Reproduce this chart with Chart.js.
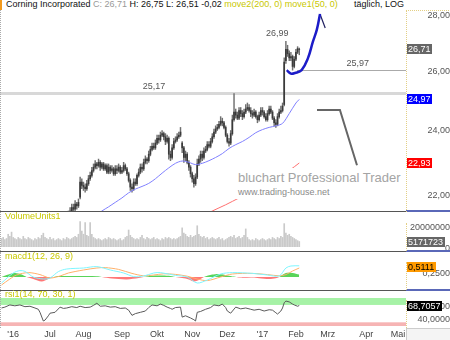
<!DOCTYPE html>
<html>
<head>
<meta charset="utf-8">
<title>Corning Incorporated</title>
<script src="https://cdn.jsdelivr.net/npm/chart.js@4.4.1/dist/chart.umd.min.js"></script>
<style>
  body { margin: 0; width: 450px; height: 340px; overflow: hidden; background: #fff; position: relative;
         font-family: "Liberation Sans", Arial, sans-serif; }
  canvas { position: absolute; left: 0; }
  .txt { position: absolute; font-size: 9px; line-height: 11px; white-space: nowrap; z-index: 3; }
  .yellow { color: #c8c800; }
  .sep { position: absolute; left: 0; width: 406px; height: 1px; background: #555; z-index: 2; }
  .sepr { position: absolute; left: 406px; width: 44px; height: 2px; background: #5a68b8; z-index: 2; }
  .dotl { position: absolute; left: 0; width: 0; border-left: 1px dotted #aaa; z-index: 2; }
  .doty { position: absolute; left: 406px; width: 0; border-left: 1px dotted #e3cf85; z-index: 2; }
</style>
</head>
<body>

<div style="position:absolute;left:0;top:0;width:2px;height:10px;background:#f39a1d"></div>
<div class="txt" style="left:6px;top:-1px;color:#111">Corning Incorporated <span style="color:#999">C: 26,71</span> H: 26,75 L: 26,51 -0,02 <span class="yellow">move2(200, 0) move1(50, 0)</span></div>
<div class="txt" style="left:354px;top:-1px;color:#111">täglich, LOG</div>

<canvas id="main" width="450" height="201" style="top:10px"></canvas>
<canvas id="vol" width="450" height="39" style="top:212px"></canvas>
<canvas id="macd" width="450" height="38" style="top:252px"></canvas>
<canvas id="rsi" width="450" height="49" style="top:291px"></canvas>

<div class="txt yellow" style="left:5px;top:211px">VolumeUnits1</div>
<div class="txt yellow" style="left:5px;top:251px">macd1(12, 26, 9)</div>
<div class="txt yellow" style="left:5px;top:289px">rsi1(14, 70, 30, 1)</div>

<div style="position:absolute;left:236px;top:168px;width:170px;height:31px;background:#fff;z-index:2">
  <div style="position:absolute;left:2px;top:2px;font-size:13px;color:#a4a4a4;white-space:nowrap">bluchart Professional Trader</div>
  <div style="position:absolute;left:2px;top:19px;font-size:9px;color:#8a8a8a;white-space:nowrap">www.trading-house.net</div>
</div>

<div class="sep" style="top:211px"></div><div class="sepr" style="top:210px"></div>
<div class="sep" style="top:251px"></div><div class="sepr" style="top:250px"></div>
<div class="sep" style="top:290px"></div><div class="sepr" style="top:289px"></div>
<div class="dotl" style="top:10px;height:201px"></div>
<div class="dotl" style="top:212px;height:39px"></div>
<div class="dotl" style="top:252px;height:38px"></div>
<div class="dotl" style="top:291px;height:37px"></div>
<div class="doty" style="top:10px;height:201px;border-top:1px dotted #e3cf85;width:44px"></div>
<div class="doty" style="top:223px;height:28px"></div>
<div class="doty" style="top:262px;height:28px"></div>
<div class="doty" style="top:300px;height:28px"></div>
<div style="position:absolute;left:406px;top:328px;width:43px;height:11px;border:1px solid #ccc;background:#f4f4f4;z-index:2"></div>

<script>
// trading days, May 23 2016 .. Feb 3 2017 (index 0..178)
const opens = [
  20.40, 20.45, 20.60, 20.85, 20.90, 20.95, 20.80, 20.70, 20.85, 20.95,
  20.90, 21.05, 21.10, 21.00, 20.85, 20.70, 20.60, 20.55, 20.70, 20.80,
  20.65, 20.90, 20.95, 20.85, 20.60, 20.25, 19.85, 20.10, 20.40, 20.50,
  20.60, 20.45, 20.70, 20.85, 21.05, 21.15, 21.20, 21.25, 21.30, 21.20,
  21.35, 21.40, 21.50, 21.60, 21.55, 21.70, 21.65, 21.90, 22.35, 22.25,
  22.20, 22.15, 22.30, 22.45, 22.55, 22.70, 22.80, 22.90, 22.85, 22.95,
  22.80, 22.90, 22.75, 22.85, 22.65, 22.80, 22.70, 22.75, 22.60, 22.75,
  22.70, 22.80, 22.65, 22.70, 22.85, 22.75, 22.60, 22.40, 22.20, 22.15,
  22.35, 22.30, 22.55, 22.65, 22.80, 22.75, 22.95, 23.05, 23.00, 23.20,
  23.35, 23.45, 23.40, 23.55, 23.70, 23.65, 23.80, 23.85, 23.75, 23.60,
  23.70, 23.20, 23.10, 23.40, 23.60, 23.65, 23.75, 23.80, 23.55, 23.40,
  23.10, 23.20, 22.95, 22.80, 22.60, 22.45, 22.30, 22.50, 22.90, 23.05,
  23.20, 23.10, 23.30, 23.35, 23.50, 23.45, 23.60, 23.75, 23.90, 24.00,
  24.05, 24.15, 24.25, 24.20, 24.05, 23.80, 23.60, 23.55, 23.85, 24.30,
  24.55, 24.45, 24.35, 24.60, 24.50, 24.40, 24.55, 24.65, 24.70, 24.60,
  24.50, 24.45, 24.55, 24.40, 24.30, 24.45, 24.60, 24.55, 24.40, 24.30,
  24.50, 24.65, 24.55, 24.35, 24.20, 24.15, 24.40, 24.55, 24.60, 24.80,
  26.30, 26.70, 26.55, 26.40, 26.45, 26.10, 26.35, 26.60, 26.70
];
const highs = [
  20.55, 20.70, 20.90, 21.00, 21.05, 21.00, 20.85, 20.95, 21.05, 21.00,
  21.15, 21.20, 21.15, 21.05, 20.90, 20.80, 20.70, 20.80, 20.90, 20.85,
  20.95, 21.05, 21.00, 21.10, 20.70, 20.35, 20.20, 20.50, 20.60, 20.70,
  20.65, 20.75, 20.90, 21.10, 21.20, 21.30, 21.35, 21.40, 21.35, 21.40,
  21.50, 21.60, 21.70, 21.70, 21.80, 21.75, 21.85, 22.50, 22.45, 22.35,
  22.30, 22.40, 22.55, 22.65, 22.80, 22.90, 23.00, 22.95, 23.05, 23.00,
  22.95, 22.95, 22.90, 22.90, 22.90, 22.85, 22.85, 22.80, 22.85, 22.85,
  22.90, 22.85, 22.80, 22.95, 22.90, 22.80, 22.65, 22.45, 22.30, 22.45,
  22.45, 22.60, 22.75, 22.90, 22.90, 23.05, 23.15, 23.10, 23.30, 23.45,
  23.55, 23.55, 23.65, 23.80, 23.80, 23.90, 23.95, 23.90, 23.85, 23.80,
  23.75, 23.30, 23.50, 23.70, 23.75, 23.85, 23.90, 24.05, 23.60, 23.45,
  23.30, 23.25, 23.00, 22.85, 22.65, 22.55, 22.60, 23.05, 23.15, 23.30,
  23.30, 23.40, 23.45, 23.60, 23.60, 23.70, 23.85, 24.00, 24.10, 24.15,
  24.25, 24.40, 24.35, 24.25, 24.10, 23.85, 23.70, 23.95, 24.45, 25.17,
  24.65, 24.55, 24.70, 24.70, 24.60, 24.65, 24.80, 24.85, 24.80, 24.70,
  24.60, 24.65, 24.60, 24.45, 24.55, 24.70, 24.70, 24.60, 24.50, 24.60,
  24.75, 24.75, 24.60, 24.40, 24.30, 24.50, 24.65, 24.75, 24.85, 26.40,
  26.99, 26.85, 26.65, 26.60, 26.50, 26.45, 26.70, 26.80, 26.75
];
const lows = [
  20.30, 20.40, 20.55, 20.75, 20.80, 20.75, 20.60, 20.65, 20.80, 20.80,
  20.85, 20.95, 20.95, 20.80, 20.65, 20.55, 20.45, 20.50, 20.65, 20.60,
  20.60, 20.80, 20.75, 20.80, 20.20, 19.70, 19.80, 20.05, 20.30, 20.40,
  20.35, 20.40, 20.65, 20.80, 21.00, 21.10, 21.15, 21.20, 21.15, 21.15,
  21.30, 21.35, 21.45, 21.45, 21.50, 21.55, 21.60, 21.85, 22.15, 22.10,
  22.05, 22.10, 22.25, 22.40, 22.50, 22.65, 22.75, 22.75, 22.80, 22.70,
  22.75, 22.70, 22.70, 22.60, 22.60, 22.60, 22.65, 22.55, 22.55, 22.60,
  22.65, 22.60, 22.60, 22.65, 22.70, 22.55, 22.35, 22.10, 22.05, 22.10,
  22.25, 22.25, 22.50, 22.60, 22.65, 22.70, 22.90, 22.90, 22.95, 23.15,
  23.30, 23.35, 23.35, 23.50, 23.55, 23.60, 23.75, 23.65, 23.50, 23.55,
  23.05, 23.00, 23.05, 23.35, 23.55, 23.60, 23.70, 23.75, 23.25, 22.95,
  23.00, 22.90, 22.70, 22.50, 22.35, 22.20, 22.25, 22.45, 22.85, 22.95,
  23.00, 23.05, 23.25, 23.30, 23.40, 23.40, 23.55, 23.70, 23.85, 23.95,
  24.00, 24.10, 24.10, 24.00, 23.75, 23.55, 23.45, 23.50, 23.80, 24.25,
  24.35, 24.30, 24.30, 24.40, 24.30, 24.35, 24.50, 24.60, 24.55, 24.40,
  24.35, 24.40, 24.35, 24.20, 24.25, 24.40, 24.45, 24.35, 24.25, 24.25,
  24.45, 24.50, 24.30, 24.10, 24.05, 24.10, 24.35, 24.50, 24.55, 24.75,
  26.20, 26.45, 26.30, 26.30, 25.97, 26.05, 26.30, 26.55, 26.51
];
const closes = [
  20.45, 20.60, 20.85, 20.90, 20.95, 20.80, 20.70, 20.85, 20.95, 20.90,
  21.05, 21.10, 21.00, 20.85, 20.70, 20.60, 20.55, 20.70, 20.80, 20.65,
  20.90, 20.95, 20.85, 21.05, 20.30, 19.85, 20.10, 20.40, 20.50, 20.60,
  20.45, 20.70, 20.85, 21.05, 21.15, 21.20, 21.25, 21.30, 21.20, 21.35,
  21.40, 21.50, 21.60, 21.55, 21.70, 21.65, 21.75, 22.35, 22.25, 22.20,
  22.15, 22.30, 22.45, 22.55, 22.70, 22.80, 22.90, 22.85, 22.95, 22.80,
  22.90, 22.75, 22.85, 22.65, 22.80, 22.70, 22.75, 22.60, 22.75, 22.70,
  22.80, 22.65, 22.70, 22.85, 22.75, 22.60, 22.40, 22.20, 22.15, 22.35,
  22.30, 22.55, 22.65, 22.80, 22.75, 22.95, 23.05, 23.00, 23.20, 23.35,
  23.45, 23.40, 23.55, 23.70, 23.65, 23.80, 23.85, 23.75, 23.60, 23.70,
  23.20, 23.10, 23.40, 23.60, 23.65, 23.75, 23.80, 23.90, 23.40, 23.10,
  23.20, 22.95, 22.80, 22.60, 22.45, 22.30, 22.50, 22.90, 23.05, 23.20,
  23.10, 23.30, 23.35, 23.50, 23.45, 23.60, 23.75, 23.90, 24.00, 24.05,
  24.15, 24.25, 24.20, 24.05, 23.80, 23.60, 23.55, 23.85, 24.30, 24.55,
  24.45, 24.35, 24.60, 24.50, 24.40, 24.55, 24.65, 24.70, 24.60, 24.50,
  24.45, 24.55, 24.40, 24.30, 24.45, 24.60, 24.55, 24.40, 24.30, 24.50,
  24.65, 24.55, 24.35, 24.20, 24.15, 24.40, 24.55, 24.60, 24.75, 26.25,
  26.70, 26.55, 26.40, 26.45, 26.10, 26.35, 26.60, 26.73, 26.71
];
// volume in millions of shares
const volumesMio = [
  8, 9, 7, 8, 12, 10, 14, 9, 8, 7,
  9, 8, 7, 10, 8, 7, 9, 8, 7, 6,
  8, 7, 9, 8, 11, 13, 9, 8, 7, 9,
  7, 8, 6, 7, 8, 7, 6, 8, 7, 9,
  8, 7, 8, 9, 10, 9, 12, 24, 15, 12,
  23, 11, 10, 23, 12, 9, 8, 7, 8, 7,
  6, 7, 8, 7, 9, 8, 7, 8, 7, 6,
  7, 8, 6, 7, 9, 10, 16, 11, 9, 8,
  7, 8, 7, 9, 11, 8, 7, 9, 8, 7,
  8, 9, 7, 8, 7, 6, 8, 7, 9, 8,
  9, 8, 7, 8, 7, 8, 9, 10, 18, 13,
  12, 10, 9, 11, 9, 10, 11, 20, 12, 10,
  9, 10, 8, 9, 7, 8, 9, 8, 7, 8,
  9, 7, 8, 6, 7, 8, 9, 10, 9, 11,
  8, 9, 10, 8, 9, 11, 17, 9, 7, 6,
  7, 6, 8, 7, 6, 7, 8, 7, 6, 7,
  8, 7, 9, 8, 7, 9, 8, 10, 9, 22,
  13, 11, 12, 10, 9, 8, 7, 6, 5.171723
];
const lastVolume = 5171723;

// moving averages, read at sample days
const sma50Days = [56, 60, 64, 68, 72, 76, 80, 84, 88, 92, 96, 100, 104, 108, 112, 116, 120, 124, 128, 132, 136, 140, 144, 148, 152, 156, 160, 164, 168, 172, 176, 178];
const sma50 = [21.35, 21.50, 21.62, 21.75, 21.88, 22.03, 22.14, 22.22, 22.31, 22.45, 22.62, 22.78, 22.92, 22.99, 22.95, 22.88, 22.92, 23.00, 23.10, 23.22, 23.38, 23.50, 23.60, 23.73, 23.88, 23.98, 24.05, 24.10, 24.18, 24.50, 24.85, 24.97];
const sma200Days = [116, 120, 126, 134, 142, 150, 158, 166, 172, 178];
const sma200 = [21.25, 21.35, 21.50, 21.68, 21.88, 22.08, 22.30, 22.52, 22.70, 22.93];

// MACD panel, read at sample days
const macdDays = [0, 7, 11, 14, 19, 25, 29, 34, 39, 49, 57, 65, 73, 79, 85, 91, 95, 104, 111, 117, 123, 131, 138, 150, 159, 166, 170, 173, 178];
const macdLine = [-0.30, 0.20, 0.32, 0.28, 0.00, -0.10, -0.05, 0.27, 0.40, 0.45, 0.52, 0.35, 0.20, 0.02, 0.05, 0.20, 0.22, 0.08, 0.00, -0.30, -0.15, 0.15, 0.22, 0.18, 0.10, 0.05, 0.45, 0.55, 0.56];
const signalDays = [0, 5, 9, 16, 23, 29, 35, 40, 49, 57, 62, 70, 78, 85, 91, 97, 104, 111, 117, 123, 131, 138, 150, 159, 166, 170, 174, 178];
const signalLine = [-0.40, -0.10, 0.10, 0.22, 0.12, -0.05, 0.05, 0.20, 0.35, 0.45, 0.47, 0.38, 0.18, 0.06, 0.10, 0.16, 0.13, 0.04, -0.10, -0.18, 0.00, 0.15, 0.18, 0.12, 0.06, 0.12, 0.30, 0.45];
const histDays = [0, 3, 8, 12, 15, 19, 24, 28, 31, 35, 45, 57, 60, 66, 75, 82, 85, 92, 100, 104, 108, 112, 115, 118, 121, 126, 130, 135, 139, 143, 150, 154, 160, 164, 166, 170, 174, 178];
const histValues = [0, 0.10, 0.20, 0.12, 0, -0.10, -0.22, -0.10, 0, 0.05, 0.05, 0.04, 0, -0.08, -0.12, -0.05, 0, 0.07, 0.06, 0, -0.05, -0.12, -0.22, -0.15, 0, 0.12, 0.15, 0.08, 0.02, -0.03, -0.02, -0.06, -0.10, -0.06, 0, 0.20, 0.20, 0.12];
const lastMacd = 0.5111;

// RSI panel, read at sample days
const rsiDays = [0, 2, 5, 8, 11, 14, 17, 20, 22, 23, 25, 26, 28, 29, 32, 35, 37, 39, 42, 45,
  47, 50, 53, 55, 57, 59, 62, 65, 68, 71, 74, 76, 78, 80, 83, 86, 88, 90, 93, 95,
  97, 99, 101, 102, 104, 107, 108, 110, 113, 115, 116, 117, 119, 122, 125, 127, 130, 132, 134, 135,
  137, 140, 143, 146, 149, 151, 154, 157, 160, 162, 164, 165, 167, 168, 169, 170, 172, 174, 175, 177, 178];
const rsiValues = [63, 65, 70, 68, 70, 66, 67, 63, 60, 53, 33, 35, 45, 51, 53, 65, 62, 63, 66, 64,
  67, 64, 65, 69, 74, 67, 68, 65, 66, 62, 63, 58, 46, 50, 53, 56, 64, 70, 68, 72,
  69, 65, 62, 60, 64, 65, 42, 45, 40, 36, 33, 53, 55, 60, 64, 70, 68, 72, 64, 56,
  51, 65, 61, 63, 60, 58, 60, 56, 59, 58, 52, 49, 56, 63, 75, 79, 77, 72, 70, 67, 68.7057];
const rsiUpper = 70, rsiLower = 30;

// drawn annotations
const resistance = 25.17;
const support = 25.97, supportFrom = 176.7;
const projDays = [170.5, 173, 175.4, 179.4, 183.2, 186.1, 188.5, 190.4];
const projPrices = [25.97, 25.85, 25.87, 25.97, 26.39, 26.97, 27.42, 28.0];
const arrowDays = [190.4, 193.5];
const arrowPrices = [28.0, 27.48];
const guideDays = [188.6, 202.3, 212.5];
const guidePrices = [24.62, 24.62, 22.86];

// axes
const priceTicks = [22, 24, 26, 28];
const volumeTicks = [0, 20000000];
const macdTicks = [0.25];
const rsiTicks = [40, 70];
const monthDays = [7, 29, 49, 72, 93, 114, 135, 156, 176, 195, 218, 237];
const monthLabels = ["'16", 'Jul', 'Aug', 'Sep', 'Okt', 'Nov', 'Dez', "'17", 'Feb', 'Mrz', 'Apr', 'Mai'];
const XMIN = -0.9, XMAX = 241.8;

const FONT = '"Liberation Sans", Arial, sans-serif';
Chart.defaults.font.family = FONT;
Chart.defaults.font.size = 9;

const days = closes.map((c, i) => i);
const deNum = (v, d) => v.toFixed(d).replace('.', ',');
const pts = (xs, ys) => xs.map((x, i) => ({ x, y: ys[i] }));

function xScale(show) {
  return {
    type: 'linear', min: XMIN, max: XMAX, offset: false, display: show,
    grid: { display: false, drawTicks: false }, border: { display: false },
    afterBuildTicks: a => { a.ticks = monthDays.map(v => ({ value: v })); },
    afterFit: a => {
      a.height = show ? 14 : 0;
      a.paddingLeft = 0; a.paddingRight = 0;
    },
    ticks: { autoSkip: false, maxRotation: 0, padding: 3, color: '#444',
             callback: v => monthLabels[monthDays.indexOf(v)] }
  };
}

function yScale(type, min, max, tickValues, digits) {
  return {
    type, min, max, position: 'right',
    grid: { display: false, drawTicks: false }, border: { display: false },
    afterFit: a => { a.width = 44; a.paddingTop = 0; a.paddingBottom = 0; },
    afterBuildTicks: a => { a.ticks = tickValues.map(v => ({ value: v })); },
    ticks: { crossAlign: 'far', padding: 0, labelOffset: 2, color: '#555', callback: v => deNum(v, digits) }
  };
}

const valueBoxes = {
  id: 'valueBoxes',
  afterDraw(chart, args, opts) {
    const { ctx, chartArea } = chart;
    const y = chart.scales.y;
    ctx.save();
    ctx.font = '9px ' + FONT;
    ctx.textBaseline = 'middle';
    opts.items.forEach(b => {
      const py = Math.round(y.getPixelForValue(b.value));
      const txt = deNum(b.value, b.digits);
      const w = Math.ceil(ctx.measureText(txt).width) + 2;
      ctx.fillStyle = b.bg;
      ctx.fillRect(chartArea.right + 1, py - 5, w, 10);
      ctx.fillStyle = b.fg;
      ctx.fillText(txt, chartArea.right + 2, py + 0.5);
    });
    ctx.restore();
  }
};

const priceNotes = {
  id: 'priceNotes',
  beforeDatasetsDraw(chart) {
    const { ctx, chartArea: a, scales: { x, y } } = chart;
    ctx.save();
    let py = y.getPixelForValue(resistance);
    ctx.strokeStyle = '#d8d8d8';
    ctx.lineWidth = 3;
    ctx.beginPath(); ctx.moveTo(a.left, py); ctx.lineTo(a.right, py); ctx.stroke();
    py = Math.round(y.getPixelForValue(support)) + 0.5;
    ctx.strokeStyle = '#aaa';
    ctx.lineWidth = 1;
    ctx.beginPath(); ctx.moveTo(x.getPixelForValue(supportFrom), py); ctx.lineTo(a.right, py); ctx.stroke();
    ctx.restore();
  },
  afterDatasetsDraw(chart) {
    const { ctx, scales: { x, y } } = chart;
    ctx.save();
    ctx.font = '9px ' + FONT;
    ctx.fillStyle = '#555';
    ctx.textAlign = 'center';
    ctx.textBaseline = 'middle';
    [[resistance, 91.2, 7], [26.99, 164.8, 8], [support, 213, 7]].forEach(([v, d, off]) => {
      ctx.fillText(deNum(v, 2), x.getPixelForValue(d), y.getPixelForValue(v) - off);
    });
    ctx.restore();
  }
};

const rsiBands = {
  id: 'rsiBands',
  beforeDatasetsDraw(chart) {
    const { ctx, chartArea: a, scales: { y } } = chart;
    ctx.save();
    ctx.fillStyle = '#a6f2a6';
    ctx.fillRect(a.left, a.top, a.width, y.getPixelForValue(rsiUpper) - a.top);
    ctx.fillStyle = '#f6b4b4';
    const lo = y.getPixelForValue(rsiLower);
    ctx.fillRect(a.left, lo, a.width, a.bottom - lo);
    ctx.restore();
  }
};

const base = {
  responsive: false, animation: false, devicePixelRatio: 1,
  events: [],
  plugins: { legend: { display: false }, tooltip: { enabled: false } }
};

new Chart(document.getElementById('main'), {
  type: 'bar',
  data: {
    datasets: [
      { type: 'line', data: pts(projDays, projPrices), borderColor: '#1c1cc8', borderWidth: 2.5,
        pointRadius: 0, tension: 0.4, order: 1 },
      { type: 'line', data: pts(arrowDays, arrowPrices), borderColor: '#202060', borderWidth: 1.2,
        pointRadius: 0, order: 1 },
      { type: 'line', data: pts(guideDays, guidePrices), borderColor: '#666', borderWidth: 2,
        pointRadius: 0, order: 1 },
      { type: 'line', data: pts(sma50Days, sma50), borderColor: '#8080ff', borderWidth: 1,
        pointRadius: 0, tension: 0.3, order: 3 },
      { type: 'line', data: pts(sma200Days, sma200), borderColor: '#ff7070', borderWidth: 1,
        pointRadius: 0, tension: 0.3, order: 3 },
      { data: days.map(d => ({ x: d, y: [lows[d], highs[d]] })), backgroundColor: '#707070',
        barThickness: 0.8, grouped: false, order: 5 },
      { data: days.map(d => ({ x: d, y: [opens[d], closes[d]] })), backgroundColor: '#3a3a3a',
        barThickness: 1, grouped: false, order: 4 }
    ]
  },
  options: Object.assign({}, base, {
    layout: { padding: 0 },
    scales: { x: xScale(false), y: yScale('logarithmic', 21.5, 28.15, priceTicks, 2) },
    plugins: Object.assign({}, base.plugins, {
      valueBoxes: { items: [
        { value: closes[closes.length - 1], digits: 2, bg: '#666', fg: '#fff' },
        { value: sma50[sma50.length - 1], digits: 2, bg: '#0000ff', fg: '#fff' },
        { value: sma200[sma200.length - 1], digits: 2, bg: '#ff0000', fg: '#fff' }
      ] }
    })
  }),
  plugins: [priceNotes, valueBoxes]
});

new Chart(document.getElementById('vol'), {
  type: 'bar',
  data: {
    datasets: [{ data: days.map(d => ({ x: d, y: volumesMio[d] * 1e6 })), backgroundColor: '#cacaca',
                 barThickness: 1, grouped: false }]
  },
  options: Object.assign({}, base, {
    layout: { padding: { top: 1, bottom: 4 } },
    scales: { x: xScale(false), y: yScale('linear', 0, 32000000, volumeTicks, 0) },
    plugins: Object.assign({}, base.plugins, {
      valueBoxes: { items: [{ value: lastVolume, digits: 0, bg: '#666', fg: '#fff' }] }
    })
  }),
  plugins: [valueBoxes]
});

new Chart(document.getElementById('macd'), {
  type: 'line',
  data: {
    datasets: [
      { data: pts(histDays, histValues), borderWidth: 0, pointRadius: 0, tension: 0.3,
        fill: { target: 'origin', above: 'rgba(60,205,60,0.85)', below: 'rgba(255,95,95,0.85)' }, order: 3 },
      { data: pts(signalDays, signalLine), borderColor: '#ffb06a', borderWidth: 1, pointRadius: 0, tension: 0.3, order: 2 },
      { data: pts(macdDays, macdLine), borderColor: '#7ff6ff', borderWidth: 1, pointRadius: 0, tension: 0.3, order: 1 }
    ]
  },
  options: Object.assign({}, base, {
    layout: { padding: { top: 1, bottom: 1 } },
    scales: { x: xScale(false), y: yScale('linear', -0.6, 1.2, macdTicks, 4) },
    plugins: Object.assign({}, base.plugins, {
      valueBoxes: { items: [{ value: lastMacd, digits: 4, bg: '#ff9a00', fg: '#000' }] }
    })
  }),
  plugins: [valueBoxes]
});

new Chart(document.getElementById('rsi'), {
  type: 'line',
  data: {
    datasets: [
      { data: pts(rsiDays, rsiValues), borderColor: '#5a5a5a', borderWidth: 1, pointRadius: 0, tension: 0 }
    ]
  },
  options: Object.assign({}, base, {
    layout: { padding: { top: 7 } },
    scales: { x: xScale(true), y: yScale('linear', 21.5, 86, rsiTicks, 4) },
    plugins: Object.assign({}, base.plugins, {
      valueBoxes: { items: [{ value: rsiValues[rsiValues.length - 1], digits: 4, bg: '#000', fg: '#fff' }] }
    })
  }),
  plugins: [rsiBands, valueBoxes]
});
</script>
</body>
</html>
